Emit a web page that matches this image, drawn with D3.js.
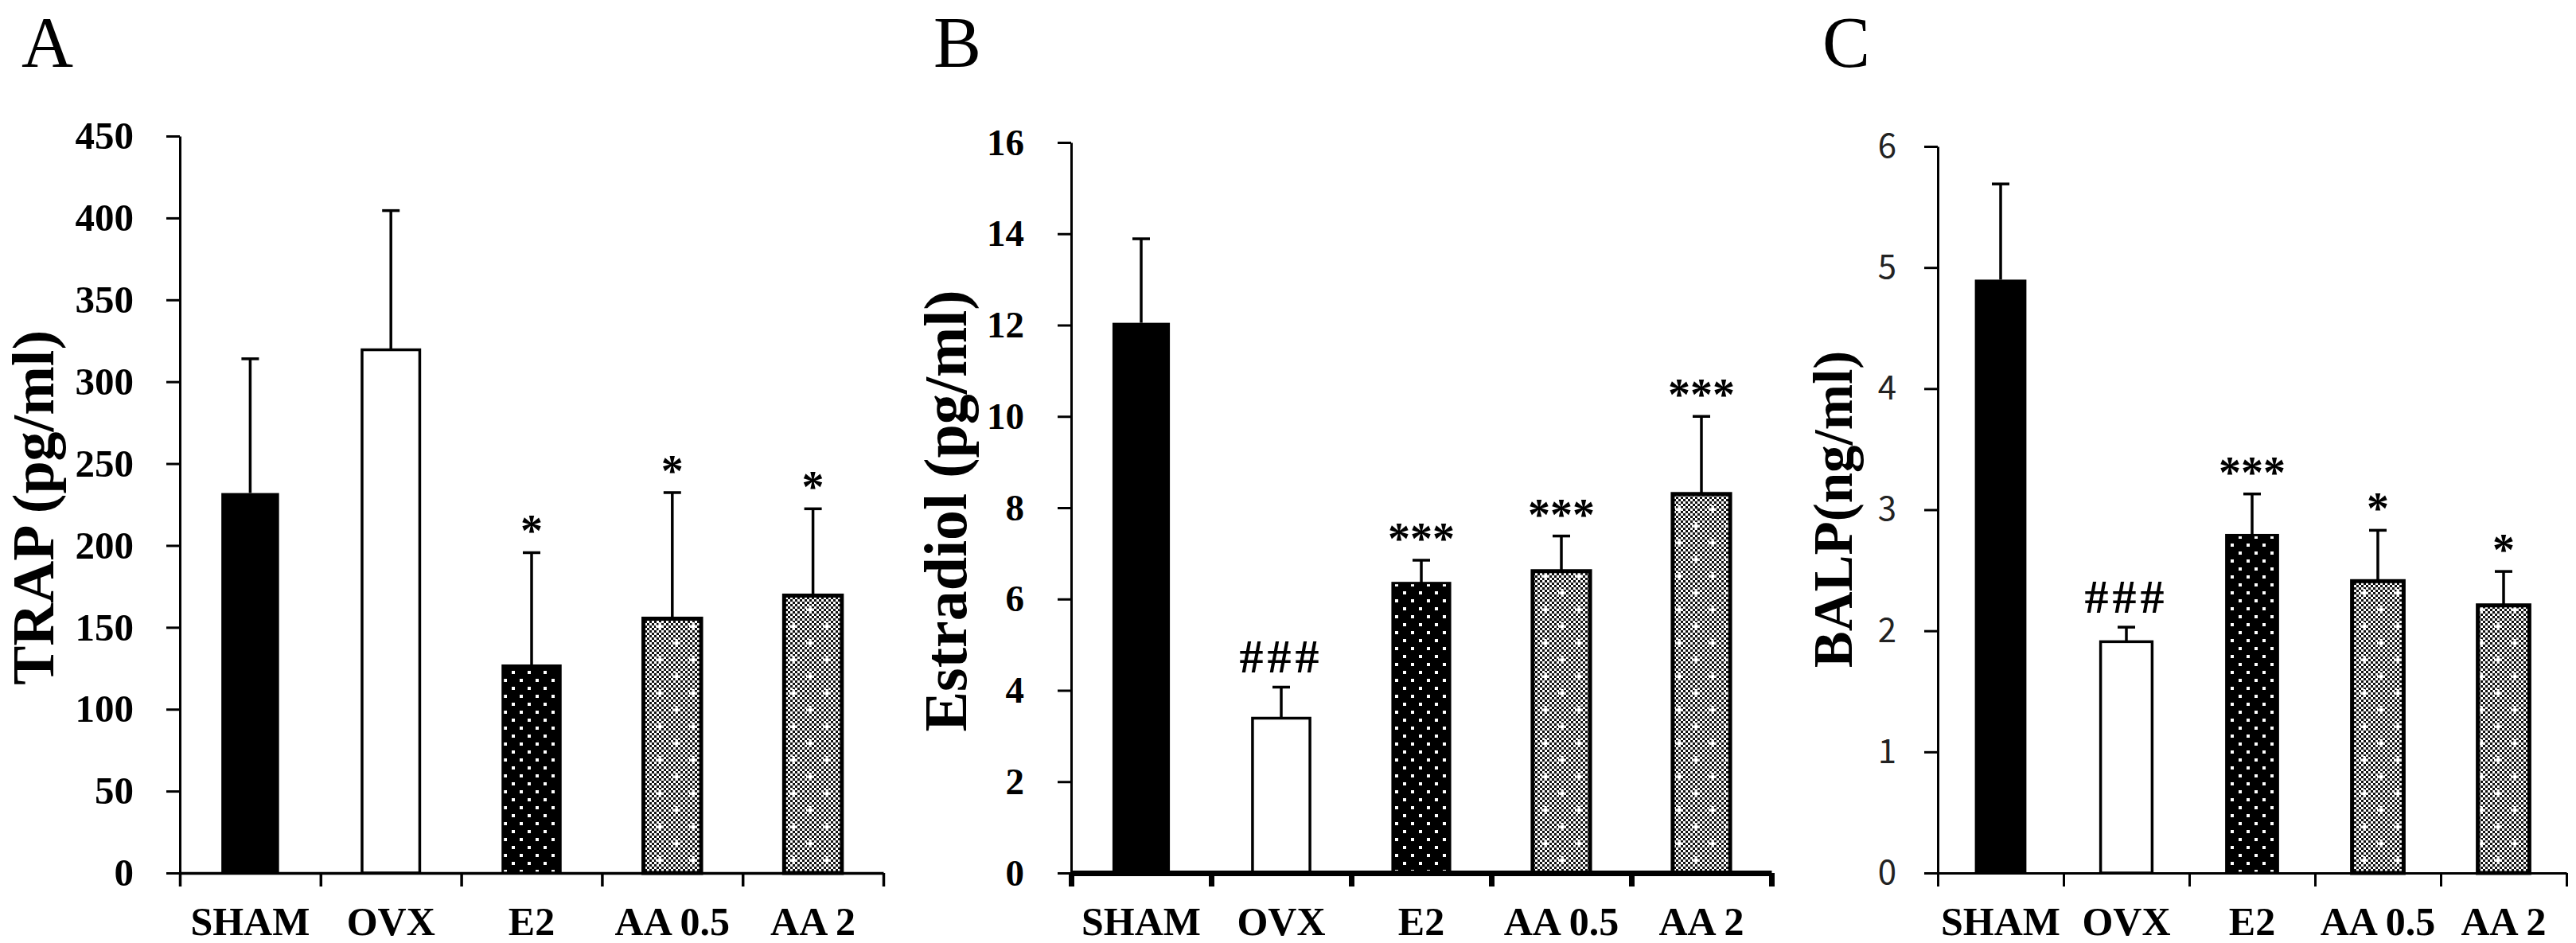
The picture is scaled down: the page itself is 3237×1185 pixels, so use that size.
<!DOCTYPE html>
<html>
<head>
<meta charset="utf-8">
<script src="https://cdn.jsdelivr.net/npm/d3@7"></script>
<style>
  body { margin: 0; background: #fff; }
  svg { display: block; }
</style>
</head>
<body>
<div id="chart"></div>
<script>
// groups on the x axis (same for all three panels)
const groups = ["SHAM", "OVX", "E2", "AA 0.5", "AA 2"];

// panel A - TRAP (pg/ml)
const trapMean = [232, 319.5, 126.6, 155.3, 169.4];
const trapErr = [82, 85, 69, 77, 53];
const trapMarks = ["", "", "*", "*", "*"];
const trapTicks = [0, 50, 100, 150, 200, 250, 300, 350, 400, 450];

// panel B - Estradiol (pg/ml)
const e2Mean = [12.05, 3.39, 6.35, 6.61, 8.30];
const e2Err = [1.84, 0.68, 0.50, 0.77, 1.70];
const e2Marks = ["", "###", "***", "***", "***"];
const e2Ticks = [0, 2, 4, 6, 8, 10, 12, 14, 16];

// panel C - BALP (ng/ml)
const balpMean = [4.90, 1.91, 2.79, 2.41, 2.21];
const balpErr = [0.79, 0.12, 0.34, 0.42, 0.28];
const balpMarks = ["", "###", "***", "*", "*"];
const balpTicks = [0, 1, 2, 3, 4, 5, 6];

const width = 3237, height = 1185;
const serif = "'Liberation Serif', 'Times New Roman', serif";

const svg = d3.select("#chart").append("svg")
    .attr("width", width)
    .attr("height", height);

// patterns for the hatched bars
const defs = svg.append("defs");

const dots = defs.append("pattern")
    .attr("id", "dots")
    .attr("patternUnits", "userSpaceOnUse")
    .attr("width", 20).attr("height", 20);
dots.append("rect").attr("width", 20).attr("height", 20).attr("fill", "#000");
dots.append("rect").attr("x", 3).attr("y", 3).attr("width", 4).attr("height", 4).attr("fill", "#fff");
dots.append("rect").attr("x", 13).attr("y", 13).attr("width", 4).attr("height", 4).attr("fill", "#fff");

const check = defs.append("pattern")
    .attr("id", "check")
    .attr("patternUnits", "userSpaceOnUse")
    .attr("width", 42).attr("height", 42);
check.append("rect").attr("width", 42).attr("height", 42).attr("fill", "#fff");
for (let i = 0; i < 14; i++) {
    for (let j = 0; j < 14; j++) {
        if ((i + j) % 2 === 0) {
            check.append("rect").attr("x", i * 3).attr("y", j * 3)
                .attr("width", 3).attr("height", 3).attr("fill", "#111");
        }
    }
}
[[10, 10], [31, 31]].forEach(([cx, cy]) => {
    check.append("rect").attr("x", cx - 5).attr("y", cy - 1.5).attr("width", 10).attr("height", 3).attr("fill", "#fff");
    check.append("rect").attr("x", cx - 1.5).attr("y", cy - 5).attr("width", 3).attr("height", 10).attr("fill", "#fff");
});

const fills = ["#000", "#fff", "url(#dots)", "url(#check)", "url(#check)"];
const strokes = [0, 3.5, 3, 5, 5];

function drawPanel(p) {
    const g = svg.append("g");

    const x = d3.scaleBand()
        .domain(groups)
        .range([p.left, p.right])
        .paddingInner(0.59)
        .paddingOuter(0.295);

    const y = d3.scaleLinear()
        .domain([0, p.max])
        .range([p.bottom, p.top]);

    // boundaries between groups, for the x tick marks
    const xb = d3.scaleLinear().domain([0, groups.length]).range([p.left, p.right]);

    // bars
    g.selectAll("rect.bar")
        .data(p.mean)
        .join("rect")
        .attr("class", "bar")
        .attr("x", (d, i) => x(groups[i]))
        .attr("y", d => y(d))
        .attr("width", x.bandwidth())
        .attr("height", d => y(0) - y(d))
        .attr("fill", (d, i) => fills[i])
        .attr("stroke", "#000")
        .attr("stroke-width", (d, i) => strokes[i]);

    // error bars (upper only)
    const cx = i => x(groups[i]) + x.bandwidth() / 2;
    g.selectAll("line.err")
        .data(p.mean)
        .join("line")
        .attr("class", "err")
        .attr("x1", (d, i) => cx(i)).attr("x2", (d, i) => cx(i))
        .attr("y1", d => y(d))
        .attr("y2", (d, i) => y(d + p.err[i]))
        .attr("stroke", "#000").attr("stroke-width", 3.5);
    g.selectAll("line.cap")
        .data(p.mean)
        .join("line")
        .attr("class", "cap")
        .attr("x1", (d, i) => cx(i) - 11).attr("x2", (d, i) => cx(i) + 11)
        .attr("y1", (d, i) => y(d + p.err[i]))
        .attr("y2", (d, i) => y(d + p.err[i]))
        .attr("stroke", "#000").attr("stroke-width", 3.5);

    // significance marks
    const isHash = d => d[0] === "#";
    g.selectAll("text.mark")
        .data(p.marks)
        .join("text")
        .attr("class", "mark")
        .attr("x", (d, i) => cx(i))
        .attr("y", (d, i) => y(p.mean[i] + p.err[i]) - (isHash(d) ? 18 : 8))
        .attr("text-anchor", "middle")
        .style("font-family", serif)
        .style("font-weight", "bold")
        .style("font-size", d => isHash(d) ? "60px" : "56px")
        .style("letter-spacing", d => isHash(d) ? "5px" : "0px")
        .text(d => d);

    // y axis
    const ya = g.append("g")
        .attr("transform", `translate(${p.left},0)`)
        .call(d3.axisLeft(y).tickValues(p.ticks).tickFormat(d3.format("d"))
            .tickSize(17).tickSizeOuter(0).tickPadding(p.pad));
    ya.select(".domain").attr("stroke-width", 3);
    ya.selectAll(".tick line").attr("stroke-width", 3);
    ya.selectAll(".tick text")
        .style("font-family", p.tickFont)
        .style("font-size", p.tickSize + "px")
        .style("font-weight", p.tickWeight)
        .attr("fill", p.tickColor);

    // x axis: tick marks at the group boundaries
    const xa = g.append("g")
        .attr("transform", `translate(0,${p.bottom})`)
        .call(d3.axisBottom(xb).tickValues(d3.range(groups.length + 1))
            .tickSize(17).tickSizeOuter(0).tickFormat(""));
    xa.select(".domain").attr("stroke-width", p.xStroke);
    xa.selectAll(".tick line").attr("stroke-width", p.xStroke);

    // group names
    g.selectAll("text.grp")
        .data(groups)
        .join("text")
        .attr("class", "grp")
        .attr("x", d => x(d) + x.bandwidth() / 2)
        .attr("y", 1175)
        .attr("text-anchor", "middle")
        .style("font-family", serif)
        .style("font-weight", "bold")
        .style("font-size", "50px")
        .text(d => d);

    // y title
    g.append("text")
        .attr("transform", `translate(${p.titleX},${p.titleY}) rotate(-90)`)
        .attr("text-anchor", "middle")
        .style("font-family", serif)
        .style("font-weight", "bold")
        .style("font-size", p.titleSize + "px")
        .text(p.title);

    // panel letter
    g.append("text")
        .attr("x", p.letterX)
        .attr("y", 84)
        .style("font-family", serif)
        .style("font-size", "90px")
        .text(p.letter);
}

drawPanel({
    letter: "A", letterX: 27,
    mean: trapMean, err: trapErr, marks: trapMarks, ticks: trapTicks, max: 450,
    left: 226, right: 1110, top: 171, bottom: 1097,
    pad: 41, tickFont: serif, tickSize: 49, tickWeight: "bold", tickColor: "#000",
    xStroke: 3.5,
    title: "TRAP (pg/ml)", titleX: 67, titleY: 638, titleSize: 74
});

drawPanel({
    letter: "B", letterX: 1173,
    mean: e2Mean, err: e2Err, marks: e2Marks, ticks: e2Ticks, max: 16,
    left: 1346, right: 2226, top: 179, bottom: 1097,
    pad: 42, tickFont: serif, tickSize: 47, tickWeight: "bold", tickColor: "#000",
    xStroke: 7,
    title: "Estradiol (pg/ml)", titleX: 1214, titleY: 642, titleSize: 76
});

drawPanel({
    letter: "C", letterX: 2290,
    mean: balpMean, err: balpErr, marks: balpMarks, ticks: balpTicks, max: 6,
    left: 2435, right: 3225, top: 184, bottom: 1097,
    pad: 35, tickFont: "'Noto Sans CJK KR', 'Noto Sans', sans-serif", tickSize: 42, tickWeight: "normal", tickColor: "#222",
    xStroke: 3,
    title: "BALP(ng/ml)", titleX: 2327, titleY: 640, titleSize: 69
});
</script>
</body>
</html>
